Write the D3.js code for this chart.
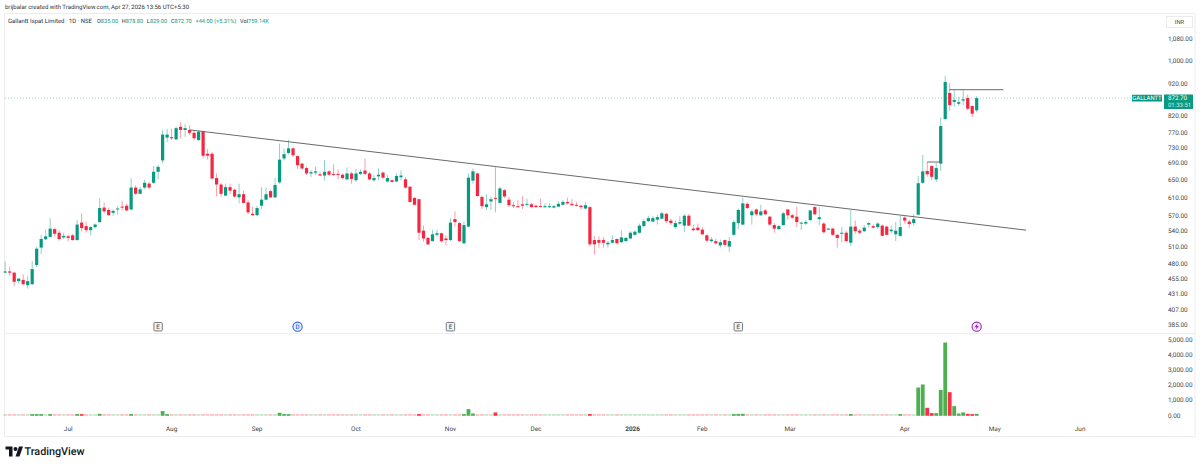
<!DOCTYPE html>
<html>
<head>
<meta charset="utf-8">
<title>Gallantt Ispat Limited, 1D</title>
<script src="https://cdnjs.cloudflare.com/ajax/libs/d3/7.8.5/d3.min.js"></script>
<style>
html,body{margin:0;padding:0;background:#fff;}
svg{display:block;}
text{font-family:Roboto,"Liberation Sans",sans-serif;text-rendering:geometricPrecision;}
</style>
</head>
<body>
<svg id="chart" width="1200" height="465"></svg>
<script>
// Daily prices in INR, oldest bar first
const opens = [465,467,465,451,453,444.5,446,478,509,524.5,529,544,537,528,530,532,523,557,550,542,548,558,588,583,577,585,590,592,584,632,618,632,641,643,669,697,757,758,752,787,778,778,770,750,775,714,714,654,639,614,633,627,610,617,599,575,572,592,605,624,610,644,702,716,728,708,
689,678,665,667,663,660,670,664,664,662,651,665,649,664,672,665,649,658,667,646,649,646,656,651,634,609,606,541,527,521,533,536,526,523,564,556,517,549,648,665,611,589,601,609,598,626,605,593,591,595,595,595,592,591,590,589,588,590,594,600,596,594,592,586,589,
523,523,523,515,518,525,519,521,526,533,537,550,560,559,563,565,575,561,548,555,551,571,545,547,543,532,521,521,513,523,511,533,556,553,596,572,584,572,582,569,552,544,552,584,572,569,555,555,562,589,564,555,543,545,533,535,537,518,549,541,540,553,550,548,551,549,540,534,531,
567,559,556,573,643,671,683,651,689,809,889,861,855,865,873,848,835];
const highs = [484,475,466.5,456,462,459,485,511,533,543,566,547,542,537,534,535,562,576,559,550,555,608,599,588,584,591,603,596,653,637,634,650,645,683,686,778,780,782,787,800,794,791,776,776,776,726,718,665,642,641,641,630,641,625,604,590,592,633,632,627,654,741,728,751,731,710,
691,682,673,682,669,698,673,687,675,665,680,669,676,675,702,669,661,677,670,661,651,665,672,656,635,610,607,551,529,542,543,537,532,566,580,558,559,665,677,667,614,617,612,680,634,629,611,600,604,613,607,598,595,607,597,597,594,602,604,609,606,600,593,600,591,
531,530,529,521,532,526,542,529,540,542,555,564,571,570,573,580,577,565,562,570,575,574,553,555,548,534,529,526,524,524,529,562,586,609,599,584,586,594,585,571,556,552,579,585,575,590,558,562,583,591,589,558,547,547,534,548,541,583,561,544,552,558,553,558,553,551,551,558,571,
570,563,574,659,711,693,685,691,814,946,922,898,877,898,884,851,878.8];
const lows = [465,460,443,447,444,439,445,474,497,523,528,530,522,525,521,522,522,539,537,532,545,557,576,571,571,573,582,580,583,615,617,628,628,641,651,690,744,750,750,754,759,764,750,748,703,699,651,612,612,613,618,609,597,597,574,571,571,585,603,609,609,641,697,712,706,676,
675,661,657,661,659,648,659,659,651,652,649,641,645,661,661,649,645,649,651,644,643,645,649,630,599,593,523,520,513,520,529,518,513,521,549,519,515,548,641,612,585,583,583,578,597,609,589,587,587,585,589,588,587,589,587,587,586,589,592,594,592,590,584,584,511,
496,509,509,509,517,515,517,520,525,531,535,548,558,557,553,564,556,552,545,552,538,550,540,540,532,519,518,515,509,511,501,531,544,551,585,553,570,570,572,551,537,543,551,563,564,548,542,552,560,572,552,535,542,531,509,519,519,512,535,534,538,547,545,544,530,532,535,521,529,
555,546,551,572,641,657,649,645,671,808,834,846,848,851,836,814,829];
const closes = [467,465,450,455,446,451,471,507,525,530,545,535,525,531,527,523,553,546,542,548,553,587,580,572,581,586,588,582,632,618,628,643,632,669,681,765,765,755,783,778,783,770,755,773,709,709,653,639,618,633,625,612,617,598,578,572,587,605,617,610,638,699,713,728,710,685,
677,665,668,670,660,669,662,662,662,654,665,652,665,669,664,651,654,662,655,654,645,659,660,632,600,594,537,526,515,534,536,521,523,557,558,521,552,655,670,613,591,595,606,607,630,612,593,591,589,592,596,589,589,590,591,591,591,596,600,597,593,592,589,593,515,
515,518,518,518,523,517,528,527,537,539,551,560,566,566,568,576,560,556,556,558,571,551,542,542,534,522,524,517,519,514,521,558,583,597,587,580,574,580,574,553,545,550,576,572,567,558,557,558,582,574,568,538,545,533,527,537,521,549,540,537,547,556,547,555,531,533,543,541,548,
561,554,564,642,670,663,657,678,789,925,851,867,860,869,840,825,872.7];

// Volume bars, in the units of the lower pane
const volumes = [40,35,50,30,35,45,85,90,80,45,85,35,40,30,30,35,100,80,45,30,30,130,55,45,30,30,35,35,110,45,35,40,30,60,55,310,90,70,75,70,50,45,50,65,75,45,70,60,50,50,35,40,40,40,50,35,40,55,40,35,60,200,85,80,50,60,
45,50,30,30,25,60,35,30,30,30,50,35,50,30,50,45,30,30,30,35,25,30,35,45,70,40,90,60,50,45,30,40,30,70,60,60,85,440,150,70,50,35,40,220,70,40,45,30,30,40,30,30,25,30,25,25,25,30,30,35,30,25,30,30,110,
50,40,30,25,30,25,35,25,40,30,45,50,40,35,35,50,45,30,35,30,70,45,35,30,30,35,25,30,35,35,45,90,120,130,60,50,45,45,40,60,45,30,60,60,40,50,30,25,50,60,60,50,30,40,35,40,60,110,50,40,35,35,30,30,45,40,30,60,90,
60,50,70,1860,2060,525,175,175,1700,4820,1555,635,150,220,130,110,130];

// Price and volume axis labels
const priceTicks = [1080,1000,920,820,770,730,690,650,610,570,540,510,480,455,431,407,385];
const volumeTicks = [0,1000,2000,3000,4000,5000];

// Calendar axis: label and the bar position it falls on
const timeLabels = ["Jul","Aug","Sep","Oct","Nov","Dec","2026","Feb","Mar","Apr","May","Jun"];
const timeBars = [14,37,56,78,99,118,139.5,155,174.5,200,220,239];

// Drawn lines: [bar, price] end points
const trendLine = [[41.1,778],[227,542]];
const resistanceLine = [[209.9,899.5],[221.9,899.5]];
const breakoutLine = [[205,693],[208,693]];

// Event flags along the bottom of the price pane
const earningsBars = [34,99,163];
const dividendBars = [65];
const splitBars = [216];

const lastClose = 872.7;

const upColor = "#089981", downColor = "#f5263f";
const volUp = "#4caf50", volDown = "#ff2d48";
const textColor = "#2a2e39";

const svg = d3.select("#chart");
const x = d3.scaleLinear().domain([0, 216]).range([5.2, 976.7]);
const y = d3.scaleLog().domain([385, 1080]).range([325, 39]);
const yVol = d3.scaleLinear().domain([0, 5000]).range([415.8, 339.8]);

const bars = d3.range(opens.length);
const isUp = i => closes[i] >= opens[i];

// Frame and pane separator
svg.append("rect").attr("x", 4.5).attr("y", 13.5).attr("width", 1190.5).attr("height", 423)
  .attr("fill", "none").attr("stroke", "#ececec");
svg.append("line").attr("x1", 4.5).attr("x2", 1195).attr("y1", 333.5).attr("y2", 333.5)
  .attr("stroke", "#ececec");

// Header lines
svg.append("text").attr("x", 5).attr("y", 9).attr("font-size", 6).attr("fill", "#333")
  .text("brijbalar created with TradingView.com, Apr 27, 2026 13:56 UTC+5:30");

const legendY = 22.5;
svg.append("text").attr("x", 8).attr("y", legendY).attr("font-size", 5.95).attr("fill", textColor)
  .text("Gallantt Ispat Limited · 1D · NSE");
const legend = svg.append("text").attr("x", 97).attr("y", legendY).attr("font-size", 5.6).attr("fill", textColor);
[["O","835.00"],["H","878.80"],["L","829.00"],["C","872.70"]].forEach(([k, v], n) => {
  legend.append("tspan").attr("dx", n ? 3.8 : 0).text(k);
  legend.append("tspan").attr("fill", upColor).text(v);
});
legend.append("tspan").attr("dx", 3.8).attr("fill", upColor).text("+44.00 (+5.31%)");
legend.append("tspan").attr("dx", 3.8).text("Vol");
legend.append("tspan").attr("fill", upColor).text("759.14K");

// Last price line
svg.append("line").attr("x1", 5).attr("x2", 1132).attr("y1", y(lastClose)).attr("y2", y(lastClose))
  .attr("stroke", upColor).attr("stroke-opacity", 0.4).attr("stroke-dasharray", "1 2");

// Candle wicks and bodies
const candles = svg.append("g");
candles.selectAll("line").data(bars).join("line")
  .attr("x1", i => x(i)).attr("x2", i => x(i))
  .attr("y1", i => y(highs[i])).attr("y2", i => y(lows[i]))
  .attr("stroke", i => isUp(i) ? upColor : downColor)
  .attr("stroke-opacity", 0.45).attr("stroke-width", 1);
candles.selectAll("rect").data(bars).join("rect")
  .attr("x", i => x(i) - 1.6).attr("width", 3.2)
  .attr("y", i => y(Math.max(opens[i], closes[i])))
  .attr("height", i => Math.max(1, Math.abs(y(opens[i]) - y(closes[i]))))
  .attr("fill", i => isUp(i) ? upColor : downColor);

// Hand-drawn lines
const chartLine = d3.line().x(d => x(d[0])).y(d => y(d[1]));
[trendLine, resistanceLine, breakoutLine].forEach(pts => {
  svg.append("path").attr("d", chartLine(pts)).attr("fill", "none")
    .attr("stroke", "#6a6a6a").attr("stroke-width", 1);
});

// Volume pane: very small bars still keep a faint footprint
const minVolHeight = 1.7;
svg.append("g").selectAll("rect").data(bars).join("rect")
  .attr("x", i => x(i) - 1.9).attr("width", 3.8)
  .attr("y", i => yVol(0) - Math.max(minVolHeight, yVol(0) - yVol(volumes[i])))
  .attr("height", i => Math.max(minVolHeight, yVol(0) - yVol(volumes[i])))
  .attr("fill", i => isUp(i) ? volUp : volDown)
  .attr("fill-opacity", i => volumes[i] < 80 ? 0.32 : 1);

// Axis labels
const fmt = d3.format(",.2f");
const axisText = svg.append("g").attr("font-size", 6.4).attr("fill", "#444");
axisText.selectAll(".p").data(priceTicks).join("text").attr("class", "p")
  .attr("x", 1168).attr("y", d => y(d)).attr("dy", "0.35em").text(fmt);
axisText.selectAll(".v").data(volumeTicks).join("text").attr("class", "v")
  .attr("x", 1168).attr("y", d => yVol(d) - 0.5).attr("dy", "0.35em").text(fmt);
axisText.selectAll(".t").data(timeLabels).join("text").attr("class", "t")
  .attr("x", (d, i) => x(timeBars[i])).attr("y", 429).attr("dy", "0.35em")
  .attr("text-anchor", "middle").attr("font-weight", d => d === "2026" ? 700 : 400).text(d => d);

// Currency box
svg.append("rect").attr("x", 1166.5).attr("y", 16.5).attr("width", 26).attr("height", 11)
  .attr("fill", "#fff").attr("stroke", "#ececec");
svg.append("text").attr("x", 1179.5).attr("y", 22).attr("dy", "0.35em").attr("text-anchor", "middle")
  .attr("font-size", 5.8).attr("fill", "#444").text("INR");

// Symbol and price tags
svg.append("rect").attr("x", 1132).attr("y", y(lastClose) - 3.4).attr("width", 30).attr("height", 6.8).attr("rx", 0.5).attr("fill", upColor);
svg.append("text").attr("x", 1147).attr("y", y(lastClose)).attr("dy", "0.35em").attr("text-anchor", "middle")
  .attr("font-size", 5.9).attr("fill", "#fff").text("GALLANTT");
svg.append("rect").attr("x", 1164).attr("y", y(lastClose) - 3.5).attr("width", 29).attr("height", 14.5).attr("rx", 0.5).attr("fill", upColor);
svg.append("text").attr("x", 1168).attr("y", y(lastClose)).attr("dy", "0.35em").attr("font-size", 6.2).attr("fill", "#fff").text("872.70");
svg.append("text").attr("x", 1168).attr("y", y(lastClose) + 7).attr("dy", "0.35em").attr("font-size", 6).attr("fill", "#cdeee6").text("01:33:51");

// Event flags
const flagY = 326.7;
earningsBars.forEach(b => {
  const g = svg.append("g").attr("transform", `translate(${x(b)},${flagY})`);
  g.append("rect").attr("x", -4.2).attr("y", -4.2).attr("width", 8.4).attr("height", 8.4).attr("rx", 1)
    .attr("fill", "#f2f3f5").attr("stroke", "#787b86");
  g.append("text").attr("text-anchor", "middle").attr("dy", "0.35em").attr("font-size", 6.2)
    .attr("font-weight", 500).attr("fill", "#555").text("E");
});
dividendBars.forEach(b => {
  const g = svg.append("g").attr("transform", `translate(${x(b)},${flagY})`);
  g.append("circle").attr("r", 4.6).attr("fill", "#e9efff").attr("stroke", "#2962ff").attr("stroke-width", 1.1);
  g.append("text").attr("text-anchor", "middle").attr("dy", "0.35em").attr("font-size", 6.2)
    .attr("font-weight", 500).attr("fill", "#2962ff").text("D");
});
splitBars.forEach(b => {
  const g = svg.append("g").attr("transform", `translate(${x(b)},${flagY})`);
  g.append("circle").attr("r", 4.6).attr("fill", "#f6edfa").attr("stroke", "#9c27b0").attr("stroke-width", 1.1);
  g.append("path").attr("d", "M1 -3.4L-2.2 0.6H-0.2L-1 3.4L2.2 -0.6H0.2Z").attr("fill", "#9c27b0");
});

// Brand mark
const brand = svg.append("g").attr("transform", "translate(5.5,446.5) scale(0.5)");
brand.append("path").attr("fill", "#131722")
  .attr("d", "M14 0H0v6h7v14h7V0zM28 20h-8L27 0h8l-7 20zM20 9a4 4 0 1 0 0-8 4 4 0 0 0 0 8z");
svg.append("text").attr("x", 24.5).attr("y", 455).attr("font-size", 10.8).attr("font-weight", 500)
  .attr("fill", "#131722").text("TradingView");
</script>
</body>
</html>
